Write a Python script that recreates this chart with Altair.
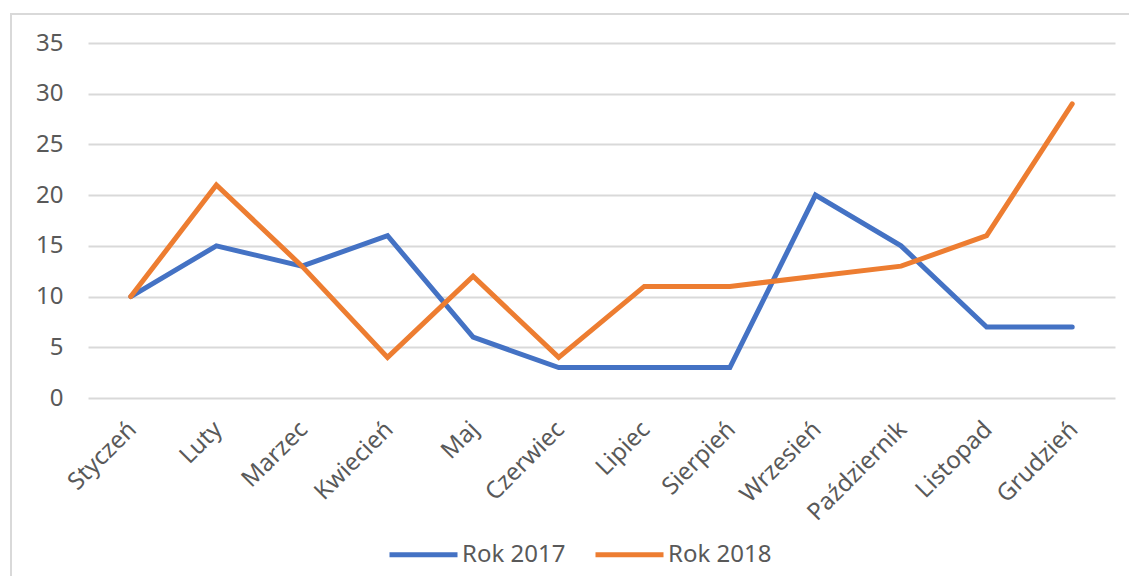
import altair as alt
import pandas as pd

months = ["Styczeń", "Luty", "Marzec", "Kwiecień", "Maj", "Czerwiec",
          "Lipiec", "Sierpień", "Wrzesień", "Październik", "Listopad", "Grudzień"]
rok_2017 = [10, 15, 13, 16, 6, 3, 3, 3, 20, 15, 7, 7]
rok_2018 = [10, 21, 13, 4, 12, 4, 11, 11, 12, 13, 16, 29]
series_names = ["Rok 2017", "Rok 2018"]
y_ticks = [0, 5, 10, 15, 20, 25, 30, 35]

rows = []
for name, vals in zip(series_names, [rok_2017, rok_2018]):
    for m, v in zip(months, vals):
        rows.append({"Miesiąc": m, "Wartość": v, "Seria": name})
df = pd.DataFrame(rows)

FONT = "Noto Sans"
GRAY = "#595959"
GRID = "#d9d9d9"

border = alt.Chart(alt.Data(values=[{"a": 1}])).mark_rect(
    fill=None, stroke=GRID, strokeWidth=2
).encode(
    x=alt.value(-77), x2=alt.value(1200),
    y=alt.value(-29), y2=alt.value(700)
)

lines = alt.Chart(df).mark_line(strokeWidth=5, strokeCap="round").encode(
    x=alt.X("Miesiąc:N", sort=months,
            scale=alt.Scale(type="point", padding=0.5),
            axis=alt.Axis(title=None, labelAngle=-45, labelAlign="right",
                          labelBaseline="top", labelPadding=19, labelOffset=-7,
                          ticks=False, tickSize=0, domain=False, grid=False,
                          labelFont=FONT, labelFontSize=24, labelColor=GRAY)),
    y=alt.Y("Wartość:Q", scale=alt.Scale(domain=[0, 35], nice=False),
            axis=alt.Axis(title=None, values=y_ticks, domain=False, ticks=False,
                          tickSize=0, labelPadding=25, grid=True, gridColor=GRID,
                          gridWidth=2, labelFont=FONT, labelFontSize=24,
                          labelColor=GRAY)),
    color=alt.Color("Seria:N", sort=series_names,
                    scale=alt.Scale(domain=series_names, range=["#4472C4", "#ED7D31"]),
                    legend=alt.Legend(title=None, orient="none", legendX=299, legendY=475,
                                      direction="horizontal", symbolType="stroke",
                                      symbolSize=4624, symbolStrokeWidth=5,
                                      labelFont=FONT, labelFontSize=24, labelColor=GRAY,
                                      labelOffset=2, columnPadding=19)),
)

chart = alt.layer(border, lines).properties(
    width=1027, height=355,
    autosize=alt.AutoSizeParams(type="none"),
    padding={"left": 80, "top": 35, "right": 14, "bottom": 178},
).configure_view(stroke=None)

chart.save("out.html", embed_options={"renderer": "svg", "actions": False})
